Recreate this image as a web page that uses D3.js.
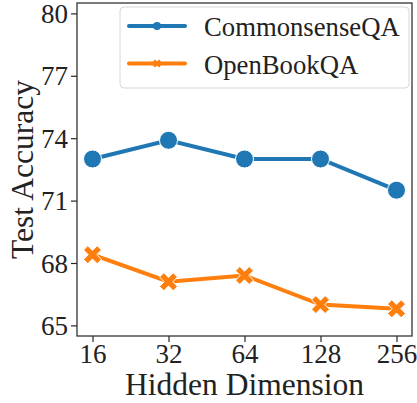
<!DOCTYPE html>
<html>
<head>
<meta charset="utf-8">
<script src="https://cdn.jsdelivr.net/npm/d3@7"></script>
<style>
    body { margin: 0; background: #fff; }
    svg text { font-family: "Liberation Serif", "Times New Roman", serif !important; fill: #222; }
</style>
</head>
<body>
<div id="chart"></div>
<script>
// 資料
const dims = ["16", "32", "64", "128", "256"];
const commonsenseQA = [73.0, 73.9, 73.0, 73.0, 71.5];
const openBookQA = [68.4, 67.1, 67.4, 66.0, 65.8];
const yTicks = [65, 68, 71, 74, 77, 80];
const seriesNames = ["CommonsenseQA", "OpenBookQA"];

// 尺寸
var W = 417, H = 403;
var margin = { top: 3, right: 5, bottom: 67, left: 77 },
    width = W - margin.left - margin.right,
    height = H - margin.top - margin.bottom;

var svg = d3.select("#chart").append("svg")
    .attr("width", W).attr("height", H);

var g = svg.append("g")
    .attr("transform", `translate(${margin.left},${margin.top})`);

var x = d3.scalePoint().domain(dims).range([0, width]).padding(0.204);
var y = d3.scaleLinear().domain([64.49, 80.5]).range([height, 0]);

var color = d3.scaleOrdinal().domain(seriesNames).range(["#1f77b4", "#ff7f0e"]);

// 軸
var xAxis = g.append("g")
    .attr("transform", `translate(0,${height})`)
    .call(d3.axisBottom(x).tickSize(6).tickPadding(4));
var yAxis = g.append("g")
    .call(d3.axisLeft(y).tickValues(yTicks).tickSize(6).tickPadding(3));

[xAxis, yAxis].forEach(a => {
    a.attr("font-family", null).attr("font-size", null);
    a.select(".domain").remove();
    a.selectAll("line").attr("stroke", "#262626").attr("stroke-width", 1.2);
    a.selectAll("text").style("font-size", "27px");
});
xAxis.selectAll("text").attr("dy", null).attr("y", 27);
yAxis.selectAll("text").attr("dy", "0.34em");

// 外框
g.append("rect")
    .attr("width", width).attr("height", height)
    .attr("fill", "none").attr("stroke", "#333").attr("stroke-width", 1.3);

// 軸標籤
svg.append("text")
    .attr("text-anchor", "middle")
    .attr("x", margin.left + width / 2)
    .attr("y", 395)
    .style("font-size", "31.5px")
    .text("Hidden Dimension");

svg.append("text")
    .attr("text-anchor", "middle")
    .attr("transform", `translate(33,${margin.top + height / 2}) rotate(-90)`)
    .style("font-size", "31.5px")
    .text("Test Accuracy");

// X 形標記（粗的填滿 X）
function xMarker(s) {
    var a = s * 0.24, b = s * 0.5;
    return `M${-b},${-b + a}L${-b + a},${-b}L0,${-a}L${b - a},${-b}L${b},${-b + a}L${a},0` +
        `L${b},${b - a}L${b - a},${b}L0,${a}L${-b + a},${b}L${-b},${b - a}L${-a},0Z`;
}

var line = d3.line().x((d, i) => x(dims[i])).y(d => y(d));

var series = [
    { name: "CommonsenseQA", values: commonsenseQA, marker: "circle" },
    { name: "OpenBookQA", values: openBookQA, marker: "x" }
];

series.forEach(s => {
    g.append("path")
        .datum(s.values)
        .attr("d", line)
        .attr("fill", "none")
        .attr("stroke", color(s.name))
        .attr("stroke-width", 4)
        .attr("stroke-linecap", "round");

    var pts = g.append("g").selectAll("path.pt")
        .data(s.values).enter();
    if (s.marker === "circle") {
        pts.append("circle")
            .attr("cx", (d, i) => x(dims[i]))
            .attr("cy", d => y(d))
            .attr("r", 9)
            .attr("fill", color(s.name))
            .attr("stroke", "#fff").attr("stroke-width", 1);
    } else {
        pts.append("path")
            .attr("transform", (d, i) => `translate(${x(dims[i])},${y(d)})`)
            .attr("d", xMarker(18))
            .attr("fill", color(s.name))
            .attr("stroke", "#fff").attr("stroke-width", 1);
    }
});

// 圖例
var legend = svg.append("g");
legend.append("rect")
    .attr("x", 120).attr("y", 7)
    .attr("width", 289).attr("height", 81)
    .attr("rx", 4)
    .attr("fill", "#fff").attr("fill-opacity", 0.8)
    .attr("stroke", "#d6d6d6").attr("stroke-width", 1);

series.forEach((s, i) => {
    var ly = 26 + i * 37.5;
    legend.append("line")
        .attr("x1", 129).attr("x2", 185)
        .attr("y1", ly).attr("y2", ly)
        .attr("stroke", color(s.name)).attr("stroke-width", 4)
        .attr("stroke-linecap", "round");
    if (s.marker === "circle") {
        legend.append("circle").attr("cx", 157).attr("cy", ly).attr("r", 4)
            .attr("fill", color(s.name));
    } else {
        legend.append("path").attr("transform", `translate(157,${ly})`)
            .attr("d", xMarker(8)).attr("fill", color(s.name));
    }
    legend.append("text")
        .attr("x", 204).attr("y", ly + 10)
        .style("font-size", "26.7px")
        .text(s.name);
});
</script>
</body>
</html>
